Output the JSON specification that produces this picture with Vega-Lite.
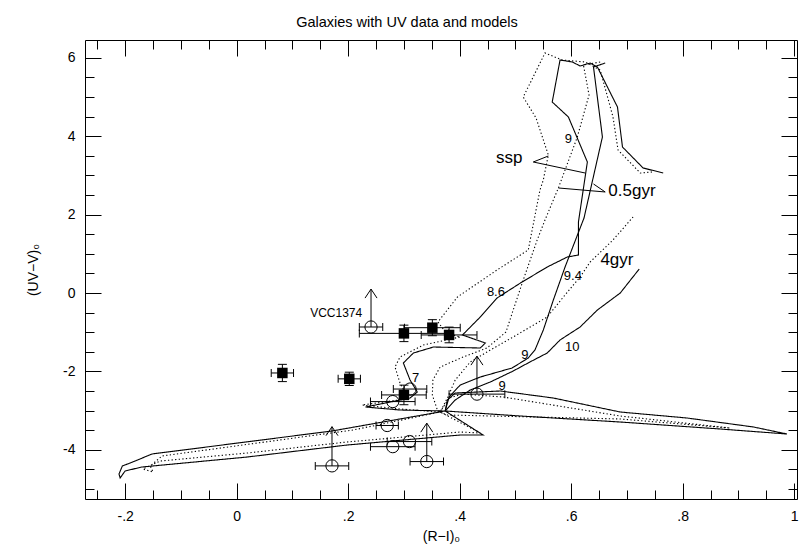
{
"$schema":"https://vega.github.io/schema/vega-lite/v6.json",
"width":712,"height":459,
"autosize":{"type":"none"},
"padding":{"left":85,"top":40,"right":15,"bottom":51},
"title":{"text":"Galaxies with UV data and models","fontSize":14.5,"fontWeight":"normal","font":"Liberation Sans","color":"black","anchor":"middle","offset":9,"dx":-34},
"config":{"view":{"stroke":"black","strokeWidth":1},"font":"Liberation Sans",
"axis":{"grid":false,"domain":false,"tickColor":"black","tickWidth":1,"labelColor":"black","titleColor":"black","labelFont":"Liberation Sans","titleFont":"Liberation Sans","labelFontSize":14,"titleFontSize":14,"titleFontWeight":"normal","labelFlush":false,"labelOverlap":false}},
"datasets":{
"tracks":[
{"t":"ssp_s","d":"solid","o":1,"x":0.765,"y":3.061},{"t":"ssp_s","d":"solid","o":2,"x":0.729,"y":3.189},{"t":"ssp_s","d":"solid","o":3,"x":0.692,"y":3.724},{"t":"ssp_s","d":"solid","o":4,"x":0.683,"y":4.745},{"t":"ssp_s","d":"solid","o":5,"x":0.647,"y":5.765},{"t":"ssp_s","d":"solid","o":6,"x":0.634,"y":5.867},{"t":"ssp_s","d":"solid","o":7,"x":0.616,"y":5.791},{"t":"ssp_s","d":"solid","o":8,"x":0.602,"y":5.893},{"t":"ssp_s","d":"solid","o":9,"x":0.580,"y":5.944},{"t":"ssp_s","d":"solid","o":10,"x":0.566,"y":4.872},{"t":"ssp_s","d":"solid","o":11,"x":0.595,"y":4.490},{"t":"ssp_s","d":"solid","o":12,"x":0.629,"y":3.342},{"t":"ssp_s","d":"solid","o":13,"x":0.613,"y":1.811},{"t":"ssp_s","d":"solid","o":14,"x":0.613,"y":0.969},{"t":"ssp_s","d":"solid","o":15,"x":0.593,"y":0.918},{"t":"ssp_s","d":"solid","o":16,"x":0.557,"y":0.663},{"t":"ssp_s","d":"solid","o":17,"x":0.509,"y":0.255},{"t":"ssp_s","d":"solid","o":18,"x":0.467,"y":-0.128},{"t":"ssp_s","d":"solid","o":19,"x":0.437,"y":-0.612},{"t":"ssp_s","d":"solid","o":20,"x":0.405,"y":-1.071},{"t":"ssp_s","d":"solid","o":21,"x":0.446,"y":-1.276},{"t":"ssp_s","d":"solid","o":22,"x":0.437,"y":-1.403},{"t":"ssp_s","d":"solid","o":23,"x":0.353,"y":-1.378},{"t":"ssp_s","d":"solid","o":24,"x":0.317,"y":-1.531},{"t":"ssp_s","d":"solid","o":25,"x":0.299,"y":-1.786},{"t":"ssp_s","d":"solid","o":26,"x":0.311,"y":-2.219},{"t":"ssp_s","d":"solid","o":27,"x":0.324,"y":-2.526},{"t":"ssp_s","d":"solid","o":28,"x":0.311,"y":-2.679},{"t":"ssp_s","d":"solid","o":29,"x":0.231,"y":-2.908},{"t":"ssp_s","d":"solid","o":30,"x":0.293,"y":-2.985},{"t":"ssp_s","d":"solid","o":31,"x":0.374,"y":-3.010},{"t":"ssp_s","d":"solid","o":32,"x":0.442,"y":-3.622},{"t":"ssp_s","d":"solid","o":33,"x":0.401,"y":-3.622},{"t":"ssp_s","d":"solid","o":34,"x":0.198,"y":-3.878},{"t":"ssp_s","d":"solid","o":35,"x":0.019,"y":-4.184},{"t":"ssp_s","d":"solid","o":36,"x":-0.170,"y":-4.439},{"t":"ssp_s","d":"solid","o":37,"x":-0.200,"y":-4.540},{"t":"ssp_s","d":"solid","o":38,"x":-0.209,"y":-4.719},{"t":"ssp_s","d":"solid","o":39,"x":-0.211,"y":-4.617},{"t":"ssp_s","d":"solid","o":40,"x":-0.205,"y":-4.413},{"t":"ssp_s","d":"solid","o":41,"x":-0.182,"y":-4.286},{"t":"ssp_s","d":"solid","o":42,"x":-0.152,"y":-4.107},{"t":"ssp_s","d":"solid","o":43,"x":0.171,"y":-3.520},{"t":"ssp_s","d":"solid","o":44,"x":0.374,"y":-3.010},{"t":"ssp_s","d":"solid","o":45,"x":0.378,"y":-2.730},{"t":"ssp_s","d":"solid","o":46,"x":0.392,"y":-2.551},{"t":"ssp_s","d":"solid","o":47,"x":0.473,"y":-2.500},{"t":"ssp_s","d":"solid","o":48,"x":0.568,"y":-2.679},{"t":"ssp_s","d":"solid","o":49,"x":0.688,"y":-3.036},{"t":"ssp_s","d":"solid","o":50,"x":0.808,"y":-3.189},{"t":"ssp_s","d":"solid","o":51,"x":0.927,"y":-3.418},{"t":"ssp_s","d":"solid","o":52,"x":0.987,"y":-3.597},{"t":"ssp_s","d":"solid","o":53,"x":0.867,"y":-3.469},{"t":"ssp_s","d":"solid","o":54,"x":0.688,"y":-3.291},{"t":"ssp_s","d":"solid","o":55,"x":0.509,"y":-3.138},{"t":"ssp_s","d":"solid","o":56,"x":0.374,"y":-3.010},
{"t":"g05_s","d":"solid","o":1,"x":0.661,"y":5.867},{"t":"g05_s","d":"solid","o":2,"x":0.640,"y":5.765},{"t":"g05_s","d":"solid","o":3,"x":0.656,"y":3.980},{"t":"g05_s","d":"solid","o":4,"x":0.623,"y":1.913},{"t":"g05_s","d":"solid","o":5,"x":0.589,"y":0.663},{"t":"g05_s","d":"solid","o":6,"x":0.568,"y":-0.179},{"t":"g05_s","d":"solid","o":7,"x":0.550,"y":-0.944},{"t":"g05_s","d":"solid","o":8,"x":0.535,"y":-1.454},{"t":"g05_s","d":"solid","o":9,"x":0.523,"y":-1.658},{"t":"g05_s","d":"solid","o":10,"x":0.494,"y":-1.913},{"t":"g05_s","d":"solid","o":11,"x":0.437,"y":-2.143},{"t":"g05_s","d":"solid","o":12,"x":0.401,"y":-2.347},{"t":"g05_s","d":"solid","o":13,"x":0.381,"y":-2.653},{"t":"g05_s","d":"solid","o":14,"x":0.374,"y":-3.010},
{"t":"g4_s","d":"solid","o":1,"x":0.722,"y":0.612},{"t":"g4_s","d":"solid","o":2,"x":0.688,"y":0.0},{"t":"g4_s","d":"solid","o":3,"x":0.647,"y":-0.434},{"t":"g4_s","d":"solid","o":4,"x":0.616,"y":-0.867},{"t":"g4_s","d":"solid","o":5,"x":0.580,"y":-1.199},{"t":"g4_s","d":"solid","o":6,"x":0.557,"y":-1.531},{"t":"g4_s","d":"solid","o":7,"x":0.526,"y":-1.760},{"t":"g4_s","d":"solid","o":8,"x":0.496,"y":-1.990},{"t":"g4_s","d":"solid","o":9,"x":0.455,"y":-2.270},{"t":"g4_s","d":"solid","o":10,"x":0.419,"y":-2.474},{"t":"g4_s","d":"solid","o":11,"x":0.392,"y":-2.730},{"t":"g4_s","d":"solid","o":12,"x":0.374,"y":-3.010},
{"t":"ssp_d","d":"dotted","o":1,"x":0.745,"y":3.087},{"t":"ssp_d","d":"dotted","o":2,"x":0.724,"y":3.061},{"t":"ssp_d","d":"dotted","o":3,"x":0.684,"y":3.648},{"t":"ssp_d","d":"dotted","o":4,"x":0.675,"y":4.490},{"t":"ssp_d","d":"dotted","o":5,"x":0.652,"y":5.689},{"t":"ssp_d","d":"dotted","o":6,"x":0.625,"y":5.893},{"t":"ssp_d","d":"dotted","o":7,"x":0.584,"y":5.944},{"t":"ssp_d","d":"dotted","o":8,"x":0.553,"y":6.122},{"t":"ssp_d","d":"dotted","o":9,"x":0.514,"y":5.000},{"t":"ssp_d","d":"dotted","o":10,"x":0.537,"y":4.464},{"t":"ssp_d","d":"dotted","o":11,"x":0.559,"y":3.520},{"t":"ssp_d","d":"dotted","o":12,"x":0.550,"y":2.883},{"t":"ssp_d","d":"dotted","o":13,"x":0.544,"y":2.628},{"t":"ssp_d","d":"dotted","o":14,"x":0.523,"y":1.097},{"t":"ssp_d","d":"dotted","o":15,"x":0.467,"y":0.587},{"t":"ssp_d","d":"dotted","o":16,"x":0.396,"y":-0.102},{"t":"ssp_d","d":"dotted","o":17,"x":0.361,"y":-0.740},{"t":"ssp_d","d":"dotted","o":18,"x":0.376,"y":-1.020},{"t":"ssp_d","d":"dotted","o":19,"x":0.401,"y":-1.122},{"t":"ssp_d","d":"dotted","o":20,"x":0.335,"y":-1.327},{"t":"ssp_d","d":"dotted","o":21,"x":0.293,"y":-1.633},{"t":"ssp_d","d":"dotted","o":22,"x":0.284,"y":-1.888},{"t":"ssp_d","d":"dotted","o":23,"x":0.293,"y":-2.296},{"t":"ssp_d","d":"dotted","o":24,"x":0.304,"y":-2.602},{"t":"ssp_d","d":"dotted","o":25,"x":0.290,"y":-2.730},{"t":"ssp_d","d":"dotted","o":26,"x":0.225,"y":-2.857},{"t":"ssp_d","d":"dotted","o":27,"x":0.293,"y":-2.959},{"t":"ssp_d","d":"dotted","o":28,"x":0.365,"y":-3.036},{"t":"ssp_d","d":"dotted","o":29,"x":0.437,"y":-3.571},{"t":"ssp_d","d":"dotted","o":30,"x":0.401,"y":-3.546},{"t":"ssp_d","d":"dotted","o":31,"x":0.198,"y":-3.801},{"t":"ssp_d","d":"dotted","o":32,"x":0.019,"y":-4.082},{"t":"ssp_d","d":"dotted","o":33,"x":-0.137,"y":-4.286},{"t":"ssp_d","d":"dotted","o":34,"x":-0.168,"y":-4.490},{"t":"ssp_d","d":"dotted","o":35,"x":-0.150,"y":-4.566},{"t":"ssp_d","d":"dotted","o":36,"x":-0.155,"y":-4.413},{"t":"ssp_d","d":"dotted","o":37,"x":-0.134,"y":-4.158},{"t":"ssp_d","d":"dotted","o":38,"x":0.209,"y":-3.495},{"t":"ssp_d","d":"dotted","o":39,"x":0.365,"y":-3.036},{"t":"ssp_d","d":"dotted","o":40,"x":0.381,"y":-2.679},{"t":"ssp_d","d":"dotted","o":41,"x":0.405,"y":-2.577},{"t":"ssp_d","d":"dotted","o":42,"x":0.478,"y":-2.653},{"t":"ssp_d","d":"dotted","o":43,"x":0.688,"y":-3.138},{"t":"ssp_d","d":"dotted","o":44,"x":0.885,"y":-3.444},{"t":"ssp_d","d":"dotted","o":45,"x":0.688,"y":-3.214},{"t":"ssp_d","d":"dotted","o":46,"x":0.378,"y":-3.112},{"t":"ssp_d","d":"dotted","o":47,"x":0.365,"y":-3.036},
{"t":"g05_d","d":"dotted","o":1,"x":0.652,"y":5.893},{"t":"g05_d","d":"dotted","o":2,"x":0.622,"y":5.816},{"t":"g05_d","d":"dotted","o":3,"x":0.632,"y":5.051},{"t":"g05_d","d":"dotted","o":4,"x":0.611,"y":3.980},{"t":"g05_d","d":"dotted","o":5,"x":0.577,"y":2.679},{"t":"g05_d","d":"dotted","o":6,"x":0.553,"y":1.862},{"t":"g05_d","d":"dotted","o":7,"x":0.539,"y":1.352},{"t":"g05_d","d":"dotted","o":8,"x":0.514,"y":0.332},{"t":"g05_d","d":"dotted","o":9,"x":0.496,"y":-0.434},{"t":"g05_d","d":"dotted","o":10,"x":0.483,"y":-0.995},{"t":"g05_d","d":"dotted","o":11,"x":0.449,"y":-1.403},{"t":"g05_d","d":"dotted","o":12,"x":0.406,"y":-1.633},{"t":"g05_d","d":"dotted","o":13,"x":0.365,"y":-1.888},{"t":"g05_d","d":"dotted","o":14,"x":0.352,"y":-2.219},{"t":"g05_d","d":"dotted","o":15,"x":0.351,"y":-2.602},{"t":"g05_d","d":"dotted","o":16,"x":0.360,"y":-2.985},{"t":"g05_d","d":"dotted","o":17,"x":0.365,"y":-3.036},
{"t":"g4_d","d":"dotted","o":1,"x":0.711,"y":1.939},{"t":"g4_d","d":"dotted","o":2,"x":0.675,"y":1.352},{"t":"g4_d","d":"dotted","o":3,"x":0.634,"y":0.791},{"t":"g4_d","d":"dotted","o":4,"x":0.616,"y":0.408},{"t":"g4_d","d":"dotted","o":5,"x":0.586,"y":-0.102},{"t":"g4_d","d":"dotted","o":6,"x":0.557,"y":-0.612},{"t":"g4_d","d":"dotted","o":7,"x":0.496,"y":-1.122},{"t":"g4_d","d":"dotted","o":8,"x":0.455,"y":-1.454},{"t":"g4_d","d":"dotted","o":9,"x":0.419,"y":-1.760},{"t":"g4_d","d":"dotted","o":10,"x":0.392,"y":-2.219},{"t":"g4_d","d":"dotted","o":11,"x":0.378,"y":-2.679},{"t":"g4_d","d":"dotted","o":12,"x":0.365,"y":-3.036}
],
"pointers":[
{"x":0.532,"y":3.342,"x2":0.559,"y2":3.495},
{"x":0.532,"y":3.342,"x2":0.625,"y2":3.061},
{"x":0.661,"y":2.577,"x2":0.577,"y2":2.679},
{"x":0.661,"y":2.577,"x2":0.640,"y2":2.781}
],
"squares":[
{"x":0.082,"y":-2.04,"xlo":0.062,"xhi":0.102,"ylo":-2.26,"yhi":-1.82},
{"x":0.202,"y":-2.19,"xlo":0.182,"xhi":0.222,"ylo":-2.36,"yhi":-2.02},
{"x":0.300,"y":-1.03,"xlo":0.220,"xhi":0.380,"ylo":-1.24,"yhi":-0.82},
{"x":0.351,"y":-0.885,"xlo":0.301,"xhi":0.401,"ylo":-1.09,"yhi":-0.68},
{"x":0.381,"y":-1.07,"xlo":0.331,"xhi":0.431,"ylo":-1.27,"yhi":-0.87},
{"x":0.300,"y":-2.60,"xlo":0.260,"xhi":0.340,"ylo":-2.85,"yhi":-2.35}
],
"circles":[
{"x":0.241,"y":-0.867,"xlo":0.220,"xhi":0.262,"tip":0.10},
{"x":0.311,"y":-2.45,"xlo":0.281,"xhi":0.341},
{"x":0.280,"y":-2.77,"xlo":0.240,"xhi":0.320},
{"x":0.431,"y":-2.58,"xlo":0.381,"xhi":0.481,"tip":-1.61},
{"x":0.270,"y":-3.38,"xlo":0.250,"xhi":0.290},
{"x":0.280,"y":-3.92,"xlo":0.240,"xhi":0.320},
{"x":0.310,"y":-3.79,"xlo":0.270,"xhi":0.350},
{"x":0.171,"y":-4.41,"xlo":0.141,"xhi":0.201,"tip":-3.41},
{"x":0.341,"y":-4.30,"xlo":0.311,"xhi":0.371,"tip":-3.32}
],
"labels":[
{"k":"age","x":0.595,"y":3.814,"s":"9"},
{"k":"age","x":0.465,"y":-0.064,"s":"8.6"},
{"k":"age","x":0.603,"y":0.344,"s":"9.4"},
{"k":"age","x":0.602,"y":-1.492,"s":"10"},
{"k":"age","x":0.517,"y":-1.671,"s":"9"},
{"k":"age","x":0.476,"y":-2.462,"s":"9"},
{"k":"age","x":0.321,"y":-2.283,"s":"7"},
{"k":"name","x":0.489,"y":3.316,"s":"ssp"},
{"k":"name","x":0.709,"y":2.464,"s":"0.5gyr"},
{"k":"name","x":0.682,"y":0.714,"s":"4gyr"},
{"k":"id","x":0.1785,"y":-0.612,"s":"VCC1374"}
]
},
"layer":[
{"data":{"name":"tracks"},"mark":{"type":"line","color":"black","strokeWidth":1.1},
"encoding":{
"x":{"field":"x","type":"quantitative","scale":{"domain":[-0.272,1.005],"nice":false,"zero":false},"axis":{"orient":"bottom","values":[-0.2,0,0.2,0.4,0.6,0.8,1],"tickSize":-16,"labelPadding":26,"labelExpr":"datum.value < -0.1 ? '-.2' : datum.value < 0.1 ? '0' : datum.value < 0.3 ? '.2' : datum.value < 0.5 ? '.4' : datum.value < 0.7 ? '.6' : datum.value < 0.9 ? '.8' : '1'","title":"(R−I)₀","titlePadding":6}},
"y":{"field":"y","type":"quantitative","scale":{"domain":[-5.255,6.454],"nice":false,"zero":false},"axis":{"orient":"left","values":[-4,-2,0,2,4,6],"tickSize":-16,"labelPadding":26,"labelExpr":"datum.value < 0 ? '-' + abs(datum.value) : '' + datum.value","title":"(UV−V)₀","titlePadding":22}},
"detail":{"field":"t"},
"strokeDash":{"field":"d","type":"nominal","scale":{"domain":["solid","dotted"],"range":[[1,0],[1.3,2.3]]},"legend":null},
"order":{"field":"o","type":"quantitative"}}},
{"data":{"name":"pointers"},"mark":{"type":"rule","color":"black","strokeWidth":1},
"encoding":{
"x":{"field":"x","type":"quantitative","scale":{"domain":[-0.272,1.005],"nice":false,"zero":false},"axis":{"orient":"bottom","values":[-0.25,-0.2,-0.15,-0.1,-0.05,0,0.05,0.1,0.15,0.2,0.25,0.3,0.35,0.4,0.45,0.5,0.55,0.6,0.65,0.7,0.75,0.8,0.85,0.9,0.95,1],"tickSize":-9,"labels":false,"title":null}},
"y":{"field":"y","type":"quantitative","scale":{"domain":[-5.255,6.454],"nice":false,"zero":false},"axis":{"orient":"left","values":[-5,-4.5,-4,-3.5,-3,-2.5,-2,-1.5,-1,-0.5,0,0.5,1,1.5,2,2.5,3,3.5,4,4.5,5,5.5,6],"tickSize":-9,"labels":false,"title":null}},
"x2":{"field":"x2"},"y2":{"field":"y2"}}},
{"data":{"name":"squares"},"mark":{"type":"rule","color":"black","strokeWidth":1},
"encoding":{
"x":{"field":"xlo","type":"quantitative","scale":{"domain":[-0.272,1.005],"nice":false,"zero":false},"axis":{"orient":"top","values":[-0.2,0,0.2,0.4,0.6,0.8,1],"tickSize":-16,"labels":false,"title":null}},
"x2":{"field":"xhi"},
"y":{"field":"y","type":"quantitative","scale":{"domain":[-5.255,6.454],"nice":false,"zero":false},"axis":{"orient":"right","values":[-4,-2,0,2,4,6],"tickSize":-16,"labels":false,"title":null}}}},
{"data":{"name":"squares"},"mark":{"type":"rule","color":"black","strokeWidth":1},
"encoding":{
"x":{"field":"x","type":"quantitative","scale":{"domain":[-0.272,1.005],"nice":false,"zero":false},"axis":{"orient":"top","values":[-0.25,-0.2,-0.15,-0.1,-0.05,0,0.05,0.1,0.15,0.2,0.25,0.3,0.35,0.4,0.45,0.5,0.55,0.6,0.65,0.7,0.75,0.8,0.85,0.9,0.95,1],"tickSize":-9,"labels":false,"title":null}},
"y":{"field":"ylo","type":"quantitative","scale":{"domain":[-5.255,6.454],"nice":false,"zero":false},"axis":{"orient":"right","values":[-5,-4.5,-4,-3.5,-3,-2.5,-2,-1.5,-1,-0.5,0,0.5,1,1.5,2,2.5,3,3.5,4,4.5,5,5.5,6],"tickSize":-9,"labels":false,"title":null}},
"y2":{"field":"yhi"}}},
{"data":{"name":"squares"},"transform":[{"fold":["xlo","xhi"],"as":["k","xc"]}],"mark":{"type":"tick","orient":"vertical","size":8,"thickness":1,"color":"black","opacity":1},
"encoding":{"x":{"field":"xc","type":"quantitative","scale":{"domain":[-0.272,1.005],"nice":false,"zero":false},"axis":null},"y":{"field":"y","type":"quantitative","scale":{"domain":[-5.255,6.454],"nice":false,"zero":false},"axis":null}}},
{"data":{"name":"squares"},"transform":[{"fold":["ylo","yhi"],"as":["k","yc"]}],"mark":{"type":"tick","orient":"horizontal","size":9,"thickness":1,"color":"black","opacity":1},
"encoding":{"x":{"field":"x","type":"quantitative","scale":{"domain":[-0.272,1.005],"nice":false,"zero":false},"axis":null},"y":{"field":"yc","type":"quantitative","scale":{"domain":[-5.255,6.454],"nice":false,"zero":false},"axis":null}}},
{"data":{"name":"circles"},"mark":{"type":"rule","color":"black","strokeWidth":1},
"encoding":{"x":{"field":"xlo","type":"quantitative","scale":{"domain":[-0.272,1.005],"nice":false,"zero":false},"axis":null},"x2":{"field":"xhi"},"y":{"field":"y","type":"quantitative","scale":{"domain":[-5.255,6.454],"nice":false,"zero":false},"axis":null}}},
{"data":{"name":"circles"},"transform":[{"fold":["xlo","xhi"],"as":["k","xc"]}],"mark":{"type":"tick","orient":"vertical","size":8,"thickness":1,"color":"black","opacity":1},
"encoding":{"x":{"field":"xc","type":"quantitative","scale":{"domain":[-0.272,1.005],"nice":false,"zero":false},"axis":null},"y":{"field":"y","type":"quantitative","scale":{"domain":[-5.255,6.454],"nice":false,"zero":false},"axis":null}}},
{"data":{"name":"circles"},"transform":[{"filter":"isValid(datum.tip)"}],"mark":{"type":"rule","color":"black","strokeWidth":1},
"encoding":{"x":{"field":"x","type":"quantitative","scale":{"domain":[-0.272,1.005],"nice":false,"zero":false},"axis":null},"y":{"field":"y","type":"quantitative","scale":{"domain":[-5.255,6.454],"nice":false,"zero":false},"axis":null},"y2":{"field":"tip"}}},
{"data":{"name":"circles"},"transform":[{"filter":"isValid(datum.tip)"}],"mark":{"type":"point","shape":"M-1,1.5L0,0L1,1.5","size":144,"filled":false,"color":"black","strokeWidth":1,"opacity":1},
"encoding":{"x":{"field":"x","type":"quantitative","scale":{"domain":[-0.272,1.005],"nice":false,"zero":false},"axis":null},"y":{"field":"tip","type":"quantitative","scale":{"domain":[-5.255,6.454],"nice":false,"zero":false},"axis":null}}},
{"data":{"name":"circles"},"mark":{"type":"point","shape":"circle","size":150,"filled":false,"color":"black","strokeWidth":1,"opacity":1},
"encoding":{"x":{"field":"x","type":"quantitative","scale":{"domain":[-0.272,1.005],"nice":false,"zero":false},"axis":null},"y":{"field":"y","type":"quantitative","scale":{"domain":[-5.255,6.454],"nice":false,"zero":false},"axis":null}}},
{"data":{"name":"squares"},"mark":{"type":"point","shape":"square","size":110,"filled":true,"color":"black","opacity":1},
"encoding":{"x":{"field":"x","type":"quantitative","scale":{"domain":[-0.272,1.005],"nice":false,"zero":false},"axis":null},"y":{"field":"y","type":"quantitative","scale":{"domain":[-5.255,6.454],"nice":false,"zero":false},"axis":null}}},
{"data":{"name":"labels"},"transform":[{"filter":"datum.k == 'age'"}],"mark":{"type":"text","fontSize":13,"align":"center","baseline":"alphabetic","font":"Liberation Sans","color":"black"},
"encoding":{"x":{"field":"x","type":"quantitative","scale":{"domain":[-0.272,1.005],"nice":false,"zero":false},"axis":null},"y":{"field":"y","type":"quantitative","scale":{"domain":[-5.255,6.454],"nice":false,"zero":false},"axis":null},"text":{"field":"s"}}},
{"data":{"name":"labels"},"transform":[{"filter":"datum.k == 'name'"}],"mark":{"type":"text","fontSize":17,"align":"center","baseline":"alphabetic","font":"Liberation Sans","color":"black"},
"encoding":{"x":{"field":"x","type":"quantitative","scale":{"domain":[-0.272,1.005],"nice":false,"zero":false},"axis":null},"y":{"field":"y","type":"quantitative","scale":{"domain":[-5.255,6.454],"nice":false,"zero":false},"axis":null},"text":{"field":"s"}}},
{"data":{"name":"labels"},"transform":[{"filter":"datum.k == 'id'"}],"mark":{"type":"text","fontSize":12,"align":"center","baseline":"alphabetic","font":"Liberation Sans","color":"black"},
"encoding":{"x":{"field":"x","type":"quantitative","scale":{"domain":[-0.272,1.005],"nice":false,"zero":false},"axis":null},"y":{"field":"y","type":"quantitative","scale":{"domain":[-5.255,6.454],"nice":false,"zero":false},"axis":null},"text":{"field":"s"}}}
],
"resolve":{"axis":{"x":"independent","y":"independent"}}
}
